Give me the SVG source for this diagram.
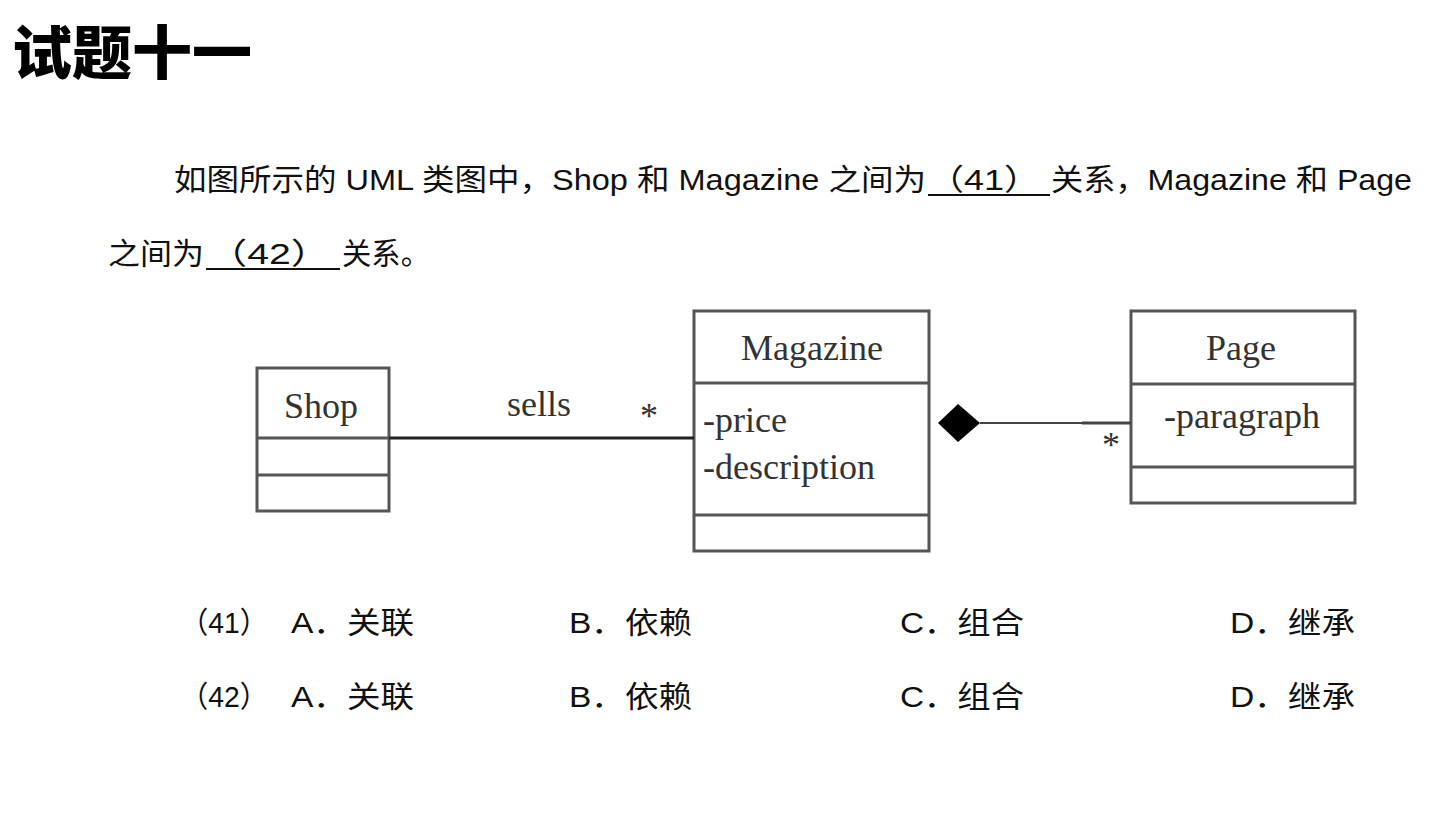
<svg xmlns="http://www.w3.org/2000/svg" width="1431" height="816" viewBox="0 0 1431 816">
<style>
.title{font-family:"Noto Sans CJK SC","Liberation Sans",sans-serif;font-weight:900;font-size:58px;fill:#000}
.q{font-family:"Liberation Sans","Noto Sans CJK SC",sans-serif;font-size:30px;fill:#111}
.uml{font-family:"Liberation Serif","DejaVu Serif",serif;font-size:36px;fill:#333}
.box{fill:none;stroke:#555;stroke-width:3}
.ul{stroke:#111;stroke-width:2}
</style>
<rect width="1431" height="816" fill="#fff"/>
<text class="title" x="12" y="74" textLength="240" lengthAdjust="spacingAndGlyphs">试题十一</text>

<g id="question">
<text class="q" x="174" y="190" textLength="752" lengthAdjust="spacingAndGlyphs">如图所示的 UML 类图中，Shop 和 Magazine 之间为</text>
<text class="q" x="928" y="190" textLength="112" lengthAdjust="spacingAndGlyphs">（41）</text>
<line class="ul" x1="928" y1="195" x2="1050" y2="195"/>
<text class="q" x="1051" y="190" textLength="361" lengthAdjust="spacingAndGlyphs">关系，Magazine 和 Page</text>
<text class="q" x="108" y="264" textLength="96" lengthAdjust="spacingAndGlyphs">之间为</text>
<text class="q" x="208" y="264" textLength="122" lengthAdjust="spacingAndGlyphs">（42）</text>
<line class="ul" x1="206" y1="269" x2="340" y2="269"/>
<text class="q" x="342" y="264" textLength="88" lengthAdjust="spacingAndGlyphs">关系。</text>
</g>

<g id="shop">
<rect class="box" x="257" y="368" width="132" height="143"/>
<line class="box" x1="257" y1="438" x2="389" y2="438"/>
<line class="box" x1="257" y1="475" x2="389" y2="475"/>
<text class="uml" x="321" y="418" text-anchor="middle">Shop</text>
</g>

<g id="magazine">
<rect class="box" x="694" y="311" width="235" height="240"/>
<line class="box" x1="694" y1="383" x2="929" y2="383"/>
<line class="box" x1="694" y1="515" x2="929" y2="515"/>
<text class="uml" x="812" y="360" text-anchor="middle">Magazine</text>
<text class="uml" x="703" y="432">-price</text>
<text class="uml" x="703" y="479">-description</text>
</g>

<g id="page">
<rect class="box" x="1131" y="311" width="224" height="192"/>
<line class="box" x1="1131" y1="384" x2="1355" y2="384"/>
<line class="box" x1="1131" y1="467" x2="1355" y2="467"/>
<text class="uml" x="1241" y="360" text-anchor="middle">Page</text>
<text class="uml" x="1242" y="428" text-anchor="middle">-paragraph</text>
</g>

<g id="connectors">
<line x1="389" y1="438" x2="694" y2="438" stroke="#222" stroke-width="3"/>
<text class="uml" x="539" y="416" text-anchor="middle">sells</text>
<text class="uml" x="649" y="428" text-anchor="middle" font-size="30">*</text>
<polygon points="938,423 958,404 980,423 958,442" fill="#000"/>
<line x1="980" y1="423" x2="1131" y2="423" stroke="#444" stroke-width="2"/>
<line x1="1082" y1="423" x2="1131" y2="423" stroke="#444" stroke-width="3"/>
<text class="uml" x="1111" y="457" text-anchor="middle" font-size="30">*</text>
</g>

<g id="options">
<text class="q" x="180" y="633" textLength="88" lengthAdjust="spacingAndGlyphs">（41）</text>
<text class="q" x="291" y="633" textLength="123" lengthAdjust="spacingAndGlyphs">A．关联</text>
<text class="q" x="569" y="633" textLength="123" lengthAdjust="spacingAndGlyphs">B．依赖</text>
<text class="q" x="900" y="633" textLength="124" lengthAdjust="spacingAndGlyphs">C．组合</text>
<text class="q" x="1230" y="633" textLength="125" lengthAdjust="spacingAndGlyphs">D．继承</text>
<text class="q" x="180" y="707" textLength="88" lengthAdjust="spacingAndGlyphs">（42）</text>
<text class="q" x="291" y="707" textLength="123" lengthAdjust="spacingAndGlyphs">A．关联</text>
<text class="q" x="569" y="707" textLength="123" lengthAdjust="spacingAndGlyphs">B．依赖</text>
<text class="q" x="900" y="707" textLength="124" lengthAdjust="spacingAndGlyphs">C．组合</text>
<text class="q" x="1230" y="707" textLength="125" lengthAdjust="spacingAndGlyphs">D．继承</text>
</g>
</svg>
